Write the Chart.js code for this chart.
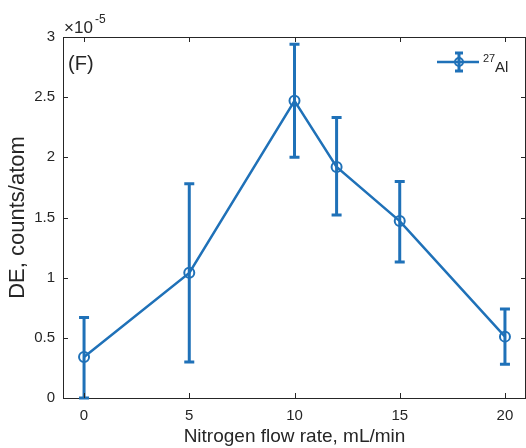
<!DOCTYPE html>
<html>
<head>
<meta charset="utf-8">
<script src="https://cdn.jsdelivr.net/npm/chart.js@4"></script>
<style>
  html, body { margin: 0; padding: 0; background: #fff; overflow: hidden; }
  #wrap { width: 526px; height: 448px; }
</style>
</head>
<body>
<div id="wrap"><canvas id="deChart"></canvas></div>
<script>
// Detection efficiency vs nitrogen flow (values in units of 1e-5)
const flowRates = [0, 5, 10, 12, 15, 20];
const deValues  = [0.34, 1.04, 2.47, 1.92, 1.47, 0.51];
const errLower  = [0.00, 0.30, 2.00, 1.52, 1.13, 0.28];
const errUpper  = [0.67, 1.78, 2.94, 2.33, 1.80, 0.74];
const xTicks = [0, 5, 10, 15, 20];
const yTicks = [0, 0.5, 1, 1.5, 2, 2.5, 3];

const BLUE = '#1f71b8';
const INK = '#262626';
const FONT = "'Liberation Sans', Arial, sans-serif";

const frame = {
    id: 'frame',
    afterDatasetsDraw(chart) {
        const ctx = chart.ctx;
        const { left, right, top, bottom } = chart.chartArea;
        const xs = chart.scales.x, ys = chart.scales.y;

        // error bars
        ctx.save();
        ctx.strokeStyle = BLUE;
        ctx.lineWidth = 3;
        flowRates.forEach((fx, i) => {
            const px = xs.getPixelForValue(fx);
            const lo = ys.getPixelForValue(errLower[i]);
            const hi = ys.getPixelForValue(errUpper[i]);
            ctx.beginPath();
            ctx.moveTo(px, lo); ctx.lineTo(px, hi);
            ctx.moveTo(px - 5, lo); ctx.lineTo(px + 5, lo);
            ctx.moveTo(px - 5, hi); ctx.lineTo(px + 5, hi);
            ctx.stroke();
        });
        ctx.restore();

        // box + inward ticks
        ctx.save();
        ctx.strokeStyle = INK;
        ctx.lineWidth = 1;
        ctx.beginPath();
        ctx.moveTo(left, top + 0.5); ctx.lineTo(right, top + 0.5);
        ctx.moveTo(right - 0.5, top); ctx.lineTo(right - 0.5, bottom);
        xTicks.forEach(t => {
            const px = Math.round(xs.getPixelForValue(t)) + 0.5;
            ctx.moveTo(px, bottom); ctx.lineTo(px, bottom - 5);
            ctx.moveTo(px, top); ctx.lineTo(px, top + 5);
        });
        yTicks.forEach(t => {
            const py = Math.round(ys.getPixelForValue(t)) + 0.5;
            ctx.moveTo(left, py); ctx.lineTo(left + 5, py);
            ctx.moveTo(right, py); ctx.lineTo(right - 5, py);
        });
        ctx.stroke();

        // exponent label
        ctx.fillStyle = INK;
        ctx.textBaseline = 'alphabetic';
        ctx.font = '17px ' + FONT;
        ctx.fillText('\u00d710', left + 1, top - 4);
        ctx.font = '12px ' + FONT;
        ctx.fillText('-5', left + 32, top - 14);

        // panel label
        ctx.font = '20px ' + FONT;
        ctx.fillText('(F)', left + 5, top + 33);

        // legend
        const ly = top + 25;
        ctx.strokeStyle = BLUE;
        ctx.lineWidth = 2.5;
        ctx.beginPath();
        ctx.moveTo(437, ly); ctx.lineTo(479, ly);
        ctx.stroke();
        ctx.lineWidth = 3;
        ctx.beginPath();
        ctx.moveTo(459, ly - 9); ctx.lineTo(459, ly + 9);
        ctx.moveTo(455, ly - 9); ctx.lineTo(463, ly - 9);
        ctx.moveTo(455, ly + 9); ctx.lineTo(463, ly + 9);
        ctx.stroke();
        ctx.lineWidth = 2;
        ctx.beginPath();
        ctx.arc(459, ly, 4, 0, Math.PI * 2);
        ctx.stroke();
        ctx.fillStyle = INK;
        ctx.font = '11px ' + FONT;
        ctx.fillText('27', 483, ly);
        ctx.font = '15px ' + FONT;
        ctx.fillText('Al', 495, ly + 10);
        ctx.restore();
    }
};

new Chart(document.getElementById('deChart'), {
    type: 'line',
    data: {
        datasets: [{
            label: '27Al',
            data: flowRates.map((x, i) => ({ x: x, y: deValues[i] })),
            borderColor: BLUE,
            borderWidth: 2.5,
            pointStyle: 'circle',
            pointRadius: 5,
            pointBorderWidth: 2,
            pointBackgroundColor: 'rgba(0,0,0,0)',
            pointBorderColor: BLUE,
            tension: 0
        }]
    },
    options: {
        responsive: true,
        maintainAspectRatio: false,
        animation: false,
        layout: { autoPadding: false, padding: { top: 37, right: 0, left: 0, bottom: 0 } },
        plugins: {
            legend: { display: false },
            tooltip: { enabled: false }
        },
        scales: {
            x: {
                type: 'linear',
                min: -1,
                max: 21,
                afterBuildTicks: s => { s.ticks = xTicks.map(v => ({ value: v })); },
                afterFit: s => { s.height = 50; s.paddingLeft = 0; s.paddingRight = 0; },
                grid: { display: false, drawTicks: false },
                border: { display: true, color: INK, width: 1 },
                ticks: { color: INK, font: { family: FONT, size: 15 }, padding: 9, maxRotation: 0 },
                title: {
                    display: true,
                    text: 'Nitrogen flow rate, mL/min',
                    color: INK,
                    font: { family: FONT, size: 19 },
                    padding: { top: 5, bottom: 0 }
                }
            },
            y: {
                min: 0,
                max: 3,
                afterBuildTicks: s => { s.ticks = yTicks.map(v => ({ value: v })); },
                afterFit: s => { s.width = 63; s.paddingTop = 0; s.paddingBottom = 0; },
                grid: { display: false, drawTicks: false },
                border: { display: true, color: INK, width: 1 },
                ticks: {
                    color: INK,
                    font: { family: FONT, size: 15 },
                    padding: 8,
                    callback: v => String(v)
                },
                title: {
                    display: true,
                    text: 'DE, counts/atom',
                    color: INK,
                    font: { family: FONT, size: 22 },
                    padding: { top: 5, bottom: 0 }
                }
            }
        }
    },
    plugins: [frame]
});
</script>
</body>
</html>
